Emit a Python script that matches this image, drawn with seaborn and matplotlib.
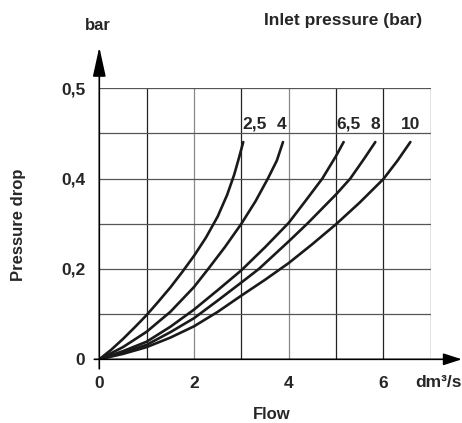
import pandas as pd
import seaborn as sns
import matplotlib.pyplot as plt
from matplotlib.patches import FancyArrowPatch

# curves: flow (dm3/s) vs pressure drop, one per inlet pressure
pressures = ["2,5", "4", "6,5", "8", "10"]
flow_25 = [0, 0.25, 0.5, 0.75, 1, 1.25, 1.5, 1.75, 2, 2.25, 2.5, 2.7, 2.85, 2.95, 3.04]
drop_25 = [0, 0.021, 0.045, 0.071, 0.098, 0.128, 0.159, 0.193, 0.229, 0.269, 0.316,
           0.364, 0.409, 0.446, 0.481]
flow_4 = [0, 0.5, 1, 1.5, 2, 2.3, 2.65, 3, 3.3, 3.56, 3.75, 3.88]
drop_4 = [0, 0.027, 0.061, 0.105, 0.16, 0.2, 0.248, 0.3, 0.35, 0.4, 0.44, 0.481]
flow_65 = [0, 0.5, 1, 1.5, 2, 2.5, 3, 3.5, 4, 4.35, 4.71, 5, 5.16]
drop_65 = [0, 0.018, 0.039, 0.072, 0.11, 0.153, 0.197, 0.248, 0.302, 0.35, 0.4,
           0.45, 0.481]
flow_8 = [0, 0.5, 1, 1.5, 2, 2.5, 3, 3.37, 4, 4.39, 5, 5.3, 5.6, 5.83]
drop_8 = [0, 0.015, 0.032, 0.06, 0.091, 0.13, 0.17, 0.2, 0.261, 0.3, 0.365, 0.4,
          0.445, 0.481]
flow_10 = [0, 0.5, 1, 1.5, 2, 2.5, 3, 3.5, 4, 4.5, 5, 5.5, 6, 6.3, 6.57]
drop_10 = [0, 0.012, 0.027, 0.048, 0.073, 0.105, 0.141, 0.176, 0.213, 0.255, 0.299,
           0.347, 0.399, 0.44, 0.481]

x_ticks = [0, 2, 3, 4, 5, 6]
x_ticklabels = ["0", "2", "", "4", "", "6"]
y_ticks = [0, 0.2, 0.4, 0.6]
y_ticklabels = ["0", "0,2", "0,4", "0,5"]

flows = [flow_25, flow_4, flow_65, flow_8, flow_10]
drops = [drop_25, drop_4, drop_65, drop_8, drop_10]
df = pd.concat([pd.DataFrame({"flow": f, "drop": d, "inlet": p})
                for f, d, p in zip(flows, drops, pressures)], ignore_index=True)

sns.set_style("white")
plt.rcParams["font.family"] = ["Liberation Sans", "DejaVu Sans"]
plt.rcParams["font.weight"] = "bold"

W, H = 462, 423
fig = plt.figure(figsize=(W / 100, H / 100), dpi=100)
ax = fig.add_axes([99.3 / W, 63.7 / H, 331.4 / W, 271 / H])

# grid
for gx in range(1, 8):
    ax.axvline(gx, color="#888888" if gx in (2, 4) else "#222222", lw=0.9, zorder=1)
for gy in [0.1, 0.2, 0.3, 0.4, 0.5, 0.6]:
    ax.axhline(gy, color="#555555", lw=0.9, zorder=1)

sns.lineplot(data=df, x="flow", y="drop", hue="inlet", sort=False,
             palette=["#1a1a1a"] * 5, legend=False, lw=1.9, ax=ax, zorder=3)

ax.set_xlim(0, 7)
ax.set_ylim(0, 0.6)
ax.set_xticks(x_ticks)
ax.set_xticklabels(x_ticklabels, fontsize=12.5, fontweight="bold")
ax.set_yticks(y_ticks)
ax.set_yticklabels(y_ticklabels, fontsize=12.5, fontweight="bold")
ax.tick_params(axis="x", length=4, width=0.9, color="#777777", pad=8)
ax.tick_params(axis="y", length=5, width=0.9, color="#222222", pad=5)
ax.set_xlabel("")
ax.set_ylabel("")
for s in ax.spines.values():
    s.set_visible(False)

# axes with arrowheads
ax.add_patch(FancyArrowPatch((0, -0.035), (0, 1.152), transform=ax.transAxes,
                             arrowstyle="-|>,head_length=1.0,head_width=0.22",
                             mutation_scale=18, color="black", lw=1.2,
                             shrinkA=0, shrinkB=0, clip_on=False, zorder=5))
ax.add_patch(FancyArrowPatch((-0.015, 0), (1.094, 0), transform=ax.transAxes,
                             arrowstyle="-|>,head_length=0.62,head_width=0.2",
                             mutation_scale=18, color="black", lw=1.2,
                             shrinkA=0, shrinkB=0, clip_on=False, zorder=5))

# curve labels
label_x = [3.27, 3.84, 5.26, 5.83, 6.57]
for lx, p in zip(label_x, pressures):
    ax.text(lx, 0.52, p, ha="center", va="center", fontsize=12.5,
            fontweight="bold", clip_on=False)

def ftext(x, y, s, **kw):
    fig.text(x / W, 1 - y / H, s, ha="center", va="center",
             fontweight="bold", **kw)

ftext(98, 25, "bar", fontsize=12)
ftext(343, 20, "Inlet pressure (bar)", fontsize=12.5)
ftext(438, 382, "dm³/s", fontsize=12.5)
ftext(272, 414, "Flow", fontsize=12)
ftext(19, 225, "Pressure drop", fontsize=12, rotation=90)

fig.savefig("out.png", dpi=100)
